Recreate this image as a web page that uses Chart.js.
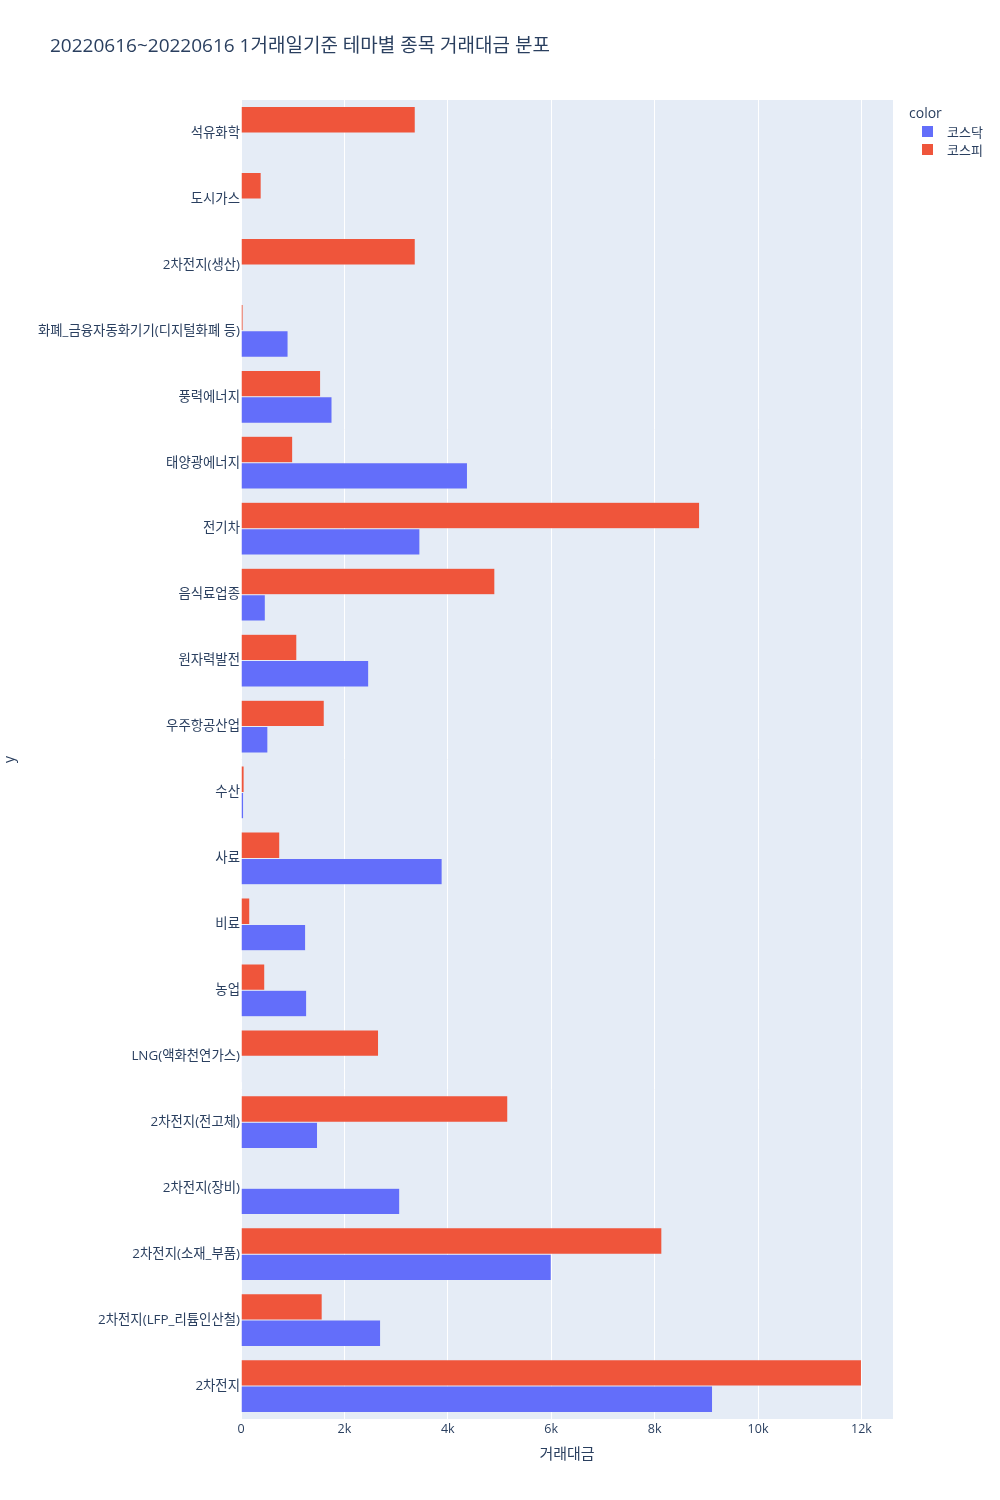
<!DOCTYPE html>
<html>
<head>
<meta charset="utf-8">
<script src="https://cdn.jsdelivr.net/npm/chart.js@4/dist/chart.umd.min.js"></script>
<style>
  body { margin: 0; background: #fff; }
  #wrap { position: relative; width: 1000px; height: 1500px; font-family: "Open Sans", "Noto Sans CJK KR", sans-serif; color: #2a3f5f; }
  #title { position: absolute; left: 50px; top: 30px; font-size: 19px; white-space: nowrap; }
  #legend { position: absolute; left: 909px; top: 103px; }
  #legend .ttl { font-size: 14px; height: 20px; }
  #legend .item { position: relative; height: 18px; font-size: 13px; line-height: 18px; padding-left: 38px; }
  #legend .sw { position: absolute; left: 13px; top: 3px; width: 11px; height: 11px; }
</style>
</head>
<body>
<div id="wrap">
  <canvas id="chart" width="1000" height="1500"></canvas>
  <div id="title">20220616~20220616 1거래일기준 테마별 종목 거래대금 분포</div>
  <div id="legend"></div>
</div>
<script>
// categories, top to bottom
const themes = ['석유화학', '도시가스', '2차전지(생산)', '화폐_금융자동화기기(디지털화폐 등)', '풍력에너지',
  '태양광에너지', '전기차', '음식료업종', '원자력발전', '우주항공산업', '수산', '사료', '비료', '농업',
  'LNG(액화천연가스)', '2차전지(전고체)', '2차전지(장비)', '2차전지(소재_부품)', '2차전지(LFP_리튬인산철)', '2차전지']

// 거래대금 per market (null = no stocks in that market)
const kosdaq = [null, null, null, 910, 1760, 4380, 3460, 470, 2470, 520, 50, 3890, 1250, 1270,
  15, 1480, 3070, 6000, 2700, 9120]
const kospi = [3370, 390, 3370, 40, 1540, 1000, 8870, 4910, 1080, 1610, 60, 750, 170, 460,
  2660, 5160, null, 8140, 1570, 12000]

const xTicks = [0, 2000, 4000, 6000, 8000, 10000, 12000]
const xTickLabels = ['0', '2k', '4k', '6k', '8k', '10k', '12k']

const seriesNames = ['코스닥', '코스피']
const seriesColors = ['#636efa', '#EF553B']

const font = '"Open Sans", "Noto Sans CJK KR", sans-serif'
const textColor = '#2a3f5f'

// legend as plain text next to the plot
let legendHtml = '<div class="ttl">color</div>'
seriesNames.forEach((name, i) => {
    legendHtml += '<div class="item"><span class="sw" style="background:' + seriesColors[i] + '"></span>' + name + '</div>'
})
document.getElementById('legend').innerHTML = legendHtml

const plotBg = {
    id: 'plotBg',
    beforeDraw(chart) {
        const a = chart.chartArea
        const ctx = chart.ctx
        ctx.save()
        ctx.fillStyle = '#E5ECF6'
        ctx.fillRect(a.left, a.top, a.right - a.left, a.bottom - a.top)
        ctx.restore()
    }
}

const ctx = document.getElementById('chart').getContext('2d')
const myChart = new Chart(ctx, {
    type: 'bar',
    data: {
        labels: themes,
        // kospi first so it sits on top within each group
        datasets: [{
            label: seriesNames[1],
            data: kospi,
            backgroundColor: seriesColors[1],
            borderColor: 'rgba(229,236,246,0.6)',
            borderWidth: 0.5
        }, {
            label: seriesNames[0],
            data: kosdaq,
            backgroundColor: seriesColors[0],
            borderColor: 'rgba(229,236,246,0.6)',
            borderWidth: 0.5
        }]
    },
    options: {
        indexAxis: 'y',
        responsive: false,
        animation: false,
        devicePixelRatio: 1,
        categoryPercentage: 0.8,
        barPercentage: 1.0,
        layout: {
            padding: { top: 100, right: 107, bottom: 0, left: 0 }
        },
        plugins: {
            legend: { display: false },
            tooltip: { enabled: false }
        },
        scales: {
            x: {
                min: 0,
                max: 12610,
                afterFit(scale) { scale.height = 81 },
                afterBuildTicks(scale) { scale.ticks = xTicks.map(v => ({ value: v })) },
                border: { display: false },
                grid: { color: '#ffffff', lineWidth: 1, drawTicks: false },
                ticks: {
                    padding: 3,
                    color: textColor,
                    font: { family: font, size: 12.5 },
                    callback: (v) => xTickLabels[xTicks.indexOf(v)]
                },
                title: {
                    display: true,
                    text: '거래대금',
                    color: textColor,
                    font: { family: font, size: 15 },
                    padding: { top: 0, bottom: 36 }
                }
            },
            y: {
                afterFit(scale) { scale.width = 241 },
                border: { display: false },
                grid: { display: false, drawTicks: false },
                ticks: {
                    padding: 1,
                    color: textColor,
                    font: { family: font, size: 13.4 }
                },
                title: {
                    display: true,
                    text: 'y',
                    color: textColor,
                    font: { family: font, size: 14 },
                    padding: { top: 2, bottom: 0 }
                }
            }
        }
    },
    plugins: [plotBg]
})
</script>
</body>
</html>
